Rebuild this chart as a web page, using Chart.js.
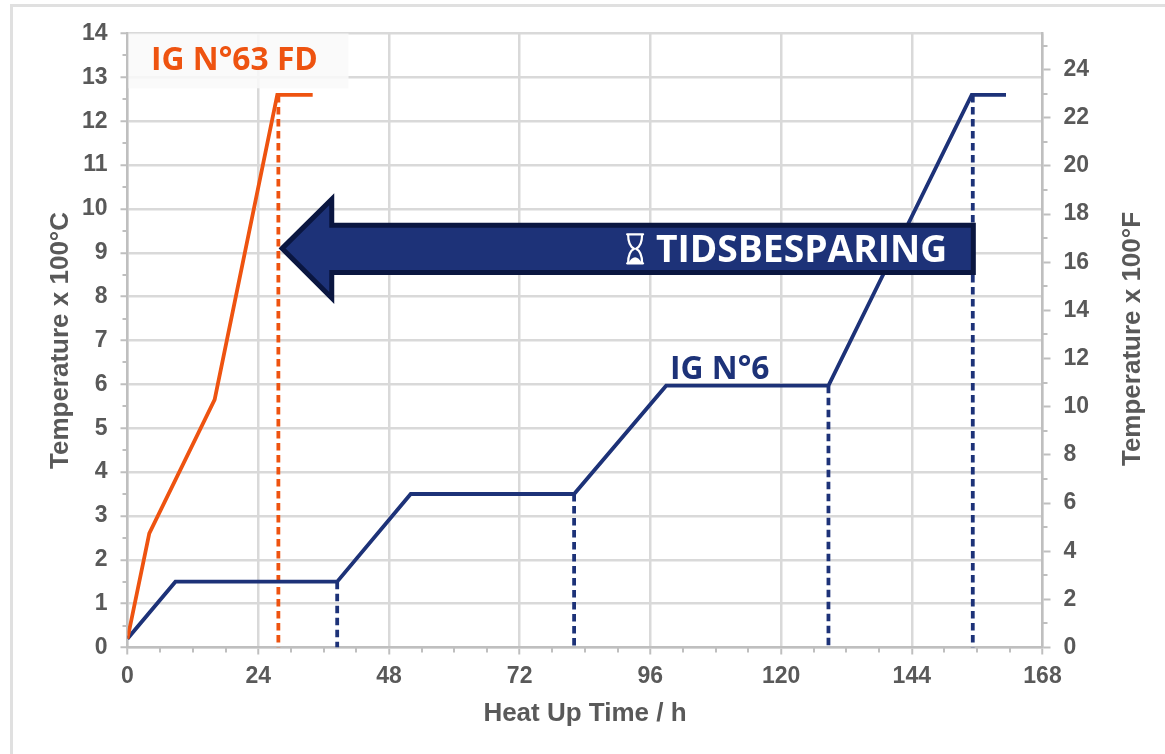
<!DOCTYPE html>
<html><head><meta charset="utf-8">
<style>
html,body{margin:0;padding:0;background:#fff;width:1165px;height:754px;overflow:hidden}
#frame{position:absolute;left:10px;top:4px;width:1170px;height:770px;border:3px solid #e0e0e0;box-sizing:border-box}
#c{position:absolute;left:0;top:0}
</style>
<script src="https://cdn.jsdelivr.net/npm/chart.js@4"></script>
</head><body>
<div id="frame"></div>
<canvas id="c" width="1165" height="754"></canvas>
<script>
const fdHours=[0,4,16,27.5,34];
const fdTemps=[0.2,2.6,5.65,12.6,12.6];
const stdHours=[0,8.8,38.5,52,82,98.9,128.7,155,161.3];
const stdTemps=[0.2,1.5,1.5,3.5,3.5,5.97,5.97,12.6,12.6];
const fdDropHour=[27.7];
const fdDropTemp=[12.6];
const stdDropHours=[38.5,82,128.7,155.2];
const stdDropTemps=[1.5,3.5,5.97,12.6];
const xLabelEvery=24;
const seriesNames=["IG N°63 FD","IG N°6"];
const arrowLabel="TIDSBESPARING";
const xTitle="Heat Up Time / h", yTitle="Temperature x 100°C", y2Title="Temperature x 100°F";

const ORANGE="#EE5310", BLUE="#1D3278", ARROW_EDGE="#0A1640", TEXT="#595959", GRID="#D9D9D9", AXIS="#BFBFBF";
const AXFONT="'Liberation Sans',Arial,sans-serif";
const LBLFONT="'Open Sans','Noto Sans',sans-serif";
const pts=(xs,ys)=>xs.map((x,i)=>({x,y:ys[i]}));
const dropSet=(x,y,color)=>({label:'drop',data:[{x,y},{x,y:0}],borderColor:color,borderWidth:3.8,borderDash:[7.5,4.5],pointRadius:0,showLine:true,order:3,fill:false});

const datasets=[
 {label:seriesNames[0],data:pts(fdHours,fdTemps),borderColor:ORANGE,borderWidth:3.8,pointRadius:0,showLine:true,order:1,fill:false},
 {label:seriesNames[1],data:pts(stdHours,stdTemps),borderColor:BLUE,borderWidth:3.8,pointRadius:0,showLine:true,order:2,fill:false},
 dropSet(fdDropHour[0],fdDropTemp[0],ORANGE),
 ...stdDropHours.map((h,i)=>dropSet(h,stdDropTemps[i],BLUE))
];

const overlay={id:'overlay',
 beforeDatasetsDraw(ch){
  const {ctx,scales:{x,y}}=ch;
  ctx.save();
  ctx.fillStyle='rgba(249,249,249,0.85)';
  ctx.fillRect(x.getPixelForValue(0)+1,y.getPixelForValue(14),x.getPixelForValue(40.4)-x.getPixelForValue(0),y.getPixelForValue(12.75)-y.getPixelForValue(14));
  ctx.restore();
 },
 afterDatasetsDraw(ch){
  const {ctx,scales:{x,y}}=ch;
  const X=v=>x.getPixelForValue(v),Y=v=>y.getPixelForValue(v);
  ctx.save();
  // arrow
  ctx.beginPath();
  ctx.moveTo(X(28.4),Y(9.1));
  ctx.lineTo(X(37.5),Y(10.22));
  ctx.lineTo(X(37.5),Y(9.63));
  ctx.lineTo(X(155.3),Y(9.63));
  ctx.lineTo(X(155.3),Y(8.55));
  ctx.lineTo(X(37.5),Y(8.55));
  ctx.lineTo(X(37.5),Y(7.97));
  ctx.closePath();
  ctx.fillStyle=BLUE;ctx.fill();
  ctx.lineWidth=5;ctx.strokeStyle=ARROW_EDGE;ctx.lineJoin='miter';ctx.stroke();
  // arrow label
  ctx.fillStyle='#fff';ctx.textBaseline='alphabetic';ctx.textAlign='left';
  ctx.font="700 37.2px "+LBLFONT;
  ctx.fillText(arrowLabel,656,261.5);
  // hourglass icon
  const ix=X(93.2),top=Y(9.42),bot=Y(8.76),w=8,mid=(top+bot)/2;
  ctx.strokeStyle='#fff';ctx.lineWidth=2.2;ctx.lineCap='round';
  ctx.beginPath();
  ctx.moveTo(ix-w,top);ctx.lineTo(ix+w,top);
  ctx.moveTo(ix-w,bot);ctx.lineTo(ix+w,bot);
  ctx.moveTo(ix-w+1,top);ctx.quadraticCurveTo(ix-w+1,mid-3,ix-1,mid);ctx.quadraticCurveTo(ix-w+1,mid+3,ix-w+1,bot);
  ctx.moveTo(ix+w-1,top);ctx.quadraticCurveTo(ix+w-1,mid-3,ix+1,mid);ctx.quadraticCurveTo(ix+w-1,mid+3,ix+w-1,bot);
  ctx.stroke();
  ctx.beginPath();ctx.moveTo(ix-w+1,bot);ctx.quadraticCurveTo(ix,bot-12,ix+w-1,bot);ctx.closePath();ctx.fillStyle='#fff';ctx.fill();
  // series labels
  ctx.font="700 31.8px "+LBLFONT;
  ctx.fillStyle=ORANGE;ctx.fillText(seriesNames[0],151,70);
  ctx.fillStyle=BLUE;ctx.fillText(seriesNames[1],670,379);
  ctx.restore();
 },
 afterDraw(ch){
  const {ctx,scales:{x,y,y2}}=ch;
  ctx.save();
  ctx.strokeStyle=AXIS;ctx.lineWidth=2;
  ctx.beginPath();
  x.ticks.forEach(t=>{if(t.value%xLabelEvery){const p=Math.round(x.getPixelForValue(t.value));ctx.moveTo(p,y.bottom);ctx.lineTo(p,y.bottom+5);}});
  y.ticks.forEach(t=>{if(t.value%1){const p=Math.round(y.getPixelForValue(t.value));ctx.moveTo(x.left,p);ctx.lineTo(x.left-5,p);}});
  y2.ticks.forEach(t=>{if(t.value%2){const p=Math.round(y2.getPixelForValue(t.value));ctx.moveTo(x.right,p);ctx.lineTo(x.right+5,p);}});
  ctx.stroke();
  // right axis title (reads bottom-to-top)
  ctx.translate(1133,339);ctx.rotate(-Math.PI/2);
  ctx.font="700 26px "+AXFONT;ctx.fillStyle=TEXT;ctx.textAlign='center';ctx.textBaseline='middle';
  ctx.fillText(y2Title,0,0);
  ctx.restore();
 }
};

new Chart(document.getElementById('c'),{
 type:'scatter',
 data:{datasets},
 plugins:[overlay],
 options:{
  responsive:false,animation:false,devicePixelRatio:1,
  layout:{autoPadding:false,padding:{top:33.5,left:0,right:0,bottom:0}},
  plugins:{legend:{display:false},tooltip:{enabled:false},title:{display:false}},
  scales:{
   x:{type:'linear',position:'bottom',min:0,max:168,
    afterFit(s){s.height=106.5},
    ticks:{stepSize:6,autoSkip:false,maxRotation:0,padding:8,color:TEXT,font:{family:AXFONT,size:23,weight:'bold'},
     callback:v=>v%xLabelEvery===0?String(v):''},
    grid:{color:c=>c.tick&&c.tick.value%xLabelEvery===0?GRID:'transparent',lineWidth:2.5,tickLength:7,
     tickColor:c=>c.tick&&c.tick.value%xLabelEvery===0?AXIS:'transparent',tickWidth:2},
    border:{color:AXIS,width:2.5},
    title:{display:true,text:xTitle,color:TEXT,font:{family:AXFONT,size:26,weight:'bold'},padding:{top:0,bottom:25}}
   },
   y:{type:'linear',position:'left',min:0,max:14,
    afterFit(s){s.width=127.5},
    ticks:{stepSize:0.5,autoSkip:false,padding:13,color:TEXT,font:{family:AXFONT,size:23,weight:'bold'},
     callback:v=>v%1===0?String(v):''},
    grid:{color:c=>c.tick&&c.tick.value%1===0?GRID:'transparent',lineWidth:2.5,tickLength:7,
     tickColor:c=>c.tick&&c.tick.value%1===0?AXIS:'transparent',tickWidth:2},
    border:{color:AXIS,width:2.5},
    title:{display:true,text:yTitle,color:TEXT,font:{family:AXFONT,size:26,weight:'bold'},padding:{top:45,bottom:0}}
   },
   y2:{type:'linear',position:'right',min:0,max:25.5,
    afterFit(s){s.width=122.5},
    ticks:{stepSize:1,autoSkip:false,includeBounds:false,padding:13,color:TEXT,font:{family:AXFONT,size:23,weight:'bold'},
     callback:v=>v%2===0?String(v):''},
    grid:{drawOnChartArea:false,tickLength:8,tickWidth:2,
     tickColor:c=>c.tick&&c.tick.value%2===0?AXIS:'transparent'},
    border:{color:AXIS,width:2.5}
   }
  }
 }
});
</script>
</body></html>
